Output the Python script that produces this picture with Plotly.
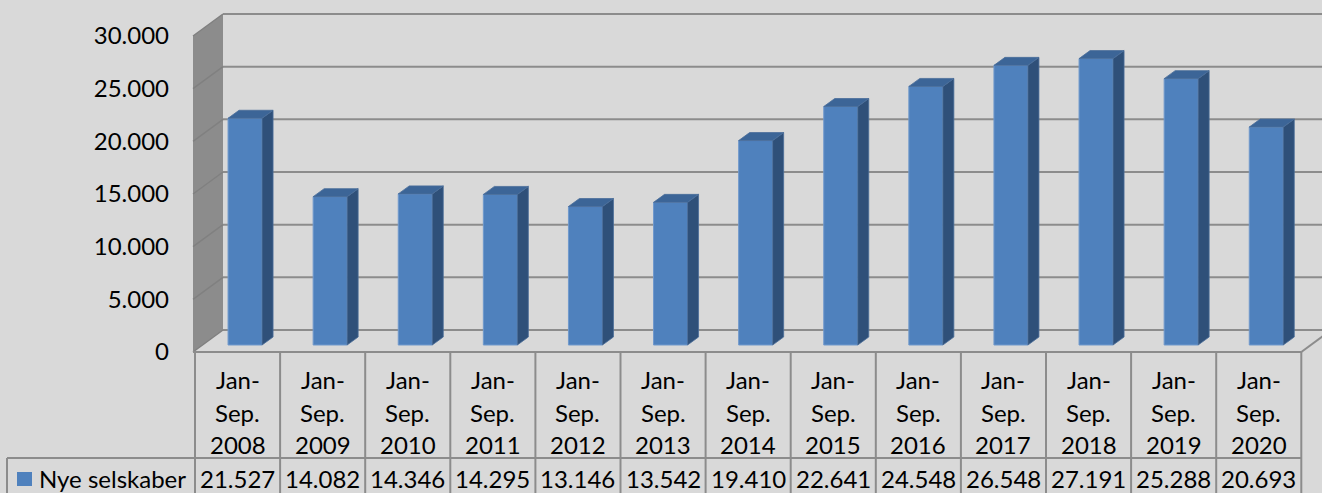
import plotly.graph_objects as go

# ---- data ----
categories = ["Jan-Sep. 2008", "Jan-Sep. 2009", "Jan-Sep. 2010", "Jan-Sep. 2011",
              "Jan-Sep. 2012", "Jan-Sep. 2013", "Jan-Sep. 2014", "Jan-Sep. 2015",
              "Jan-Sep. 2016", "Jan-Sep. 2017", "Jan-Sep. 2018", "Jan-Sep. 2019",
              "Jan-Sep. 2020"]
values = [21527, 14082, 14346, 14295, 13146, 13542, 19410, 22641, 24548,
          26548, 27191, 25288, 20693]
series_name = "Nye selskaber"
y_ticks = [0, 5000, 10000, 15000, 20000, 25000, 30000]

# ---- geometry / style (pixel based, converted to axis units) ----
W, H = 1322, 493
X0, XS = 237.55, 85.1          # px of category 0, px per category
Y0, YS = 352.0, 316.0 / 30000  # px of value 0 (front), px per unit

def dx(px):
    return px / XS

def dy(px):
    return px / YS

def X(px):  # absolute px -> x data
    return (px - X0) / XS

def Y(px):  # absolute px -> y data
    return (Y0 - px) / YS

n = len(categories)
FONT = "Lato"
FS = 24
BG = "#d9d9d9"
GRID = "#8c8c8c"
WALL = "#8c8c8c"
FRONT = "#4f81bd"
SIDE = "#2f5079"
TOP = "#3c6597"

wall_dx, wall_dy = dx(30), dy(22)
bar_off_x, bar_off_y = dx(7.5), dy(7)
bar_w = dx(34)
bar_dx, bar_dy = dx(11), dy(8)

x_fl = -0.5 - dx(2)
x_bl = x_fl + wall_dx
x_right = X(W + 40)
ymax = max(y_ticks)

shapes = []
# side wall
shapes.append(dict(type="path", layer="below", xref="x", yref="y",
                   path=f"M{x_fl},0 L{x_fl},{ymax} L{x_bl},{ymax + wall_dy} L{x_bl},{wall_dy} Z",
                   fillcolor=WALL, line=dict(width=0)))
# gridlines back wall + side wall
for v in y_ticks:
    shapes.append(dict(type="line", layer="below", xref="x", yref="y",
                       x0=x_bl, x1=x_right, y0=v + wall_dy, y1=v + wall_dy,
                       line=dict(color=GRID, width=2)))
    shapes.append(dict(type="line", layer="below", xref="x", yref="y",
                       x0=x_fl, x1=x_bl, y0=v, y1=v + wall_dy,
                       line=dict(color="#808080", width=1.5)))
# floor right edge
shapes.append(dict(type="line", layer="below", xref="x", yref="y",
                   x0=n - 0.5, x1=n - 0.5 + wall_dx, y0=0, y1=wall_dy,
                   line=dict(color=GRID, width=2)))

# table lines
y_top = 0
y_row = Y(458)
y_bot = Y(H + 5)
shapes.append(dict(type="line", xref="x", yref="y", x0=x_fl, x1=n - 0.5,
                   y0=y_top, y1=y_top, line=dict(color=GRID, width=2)))
shapes.append(dict(type="line", xref="x", yref="y", x0=X(7), x1=n - 0.5,
                   y0=y_row, y1=y_row, line=dict(color=GRID, width=2)))
shapes.append(dict(type="line", xref="x", yref="y", x0=X(7), x1=X(7),
                   y0=y_row, y1=y_bot, line=dict(color=GRID, width=2)))
for k in range(n + 1):
    shapes.append(dict(type="line", xref="x", yref="y", x0=k - 0.5, x1=k - 0.5,
                       y0=y_top, y1=y_bot, line=dict(color=GRID, width=2)))
# legend key
shapes.append(dict(type="rect", xref="x", yref="y", x0=X(17), x1=X(32),
                   y0=Y(486), y1=Y(472), fillcolor=FRONT, line=dict(width=0)))

# bar side and top faces
for k, v in enumerate(values):
    xl = k + bar_off_x - bar_w / 2
    xr = k + bar_off_x + bar_w / 2
    b = bar_off_y
    shapes.append(dict(type="path", xref="x", yref="y", layer="above",
                       path=f"M{xr},{b} L{xr + bar_dx},{b + bar_dy} L{xr + bar_dx},{b + v + bar_dy} L{xr},{b + v} Z",
                       fillcolor=SIDE, line=dict(color="#4a6d99", width=0.8)))
    shapes.append(dict(type="path", xref="x", yref="y", layer="above",
                       path=f"M{xl},{b + v} L{xl + bar_dx},{b + v + bar_dy} L{xr + bar_dx},{b + v + bar_dy} L{xr},{b + v} Z",
                       fillcolor=TOP, line=dict(color="#4a6d99", width=0.8)))

fig = go.Figure()
fig.add_trace(go.Bar(x=[k + bar_off_x for k in range(n)], y=values, base=bar_off_y,
                     width=bar_w, marker=dict(color=FRONT, line=dict(color="#7099cc", width=1)),
                     name=series_name, showlegend=False, hoverinfo="skip"))

annotations = []
line_y = [Y(379.5), Y(412), Y(444.5)]
for k, c in enumerate(categories):
    parts = c.split(" ")
    lines = [parts[0].split("-")[0] + "-", parts[0].split("-")[1], parts[1]]
    for t, yy in zip(lines, line_y):
        annotations.append(dict(x=k, y=yy, xref="x", yref="y", text=t, showarrow=False,
                                xanchor="center", yanchor="middle",
                                font=dict(family=FONT, size=FS, color="#000")))
    annotations.append(dict(x=k, y=Y(478), xref="x", yref="y",
                            text=f"{values[k]:,}".replace(",", "."), showarrow=False,
                            xanchor="center", yanchor="middle",
                            font=dict(family=FONT, size=FS, color="#000")))
annotations.append(dict(x=X(37), y=Y(478), xref="x", yref="y", text=series_name,
                        showarrow=False, xanchor="left", yanchor="middle",
                        font=dict(family=FONT, size=FS, color="#000")))

fig.update_layout(
    width=W, height=H,
    margin=dict(l=0, r=0, t=0, b=0),
    paper_bgcolor=BG, plot_bgcolor=BG,
    separators=",.",
    showlegend=False,
    shapes=shapes,
    annotations=annotations,
    xaxis=dict(range=[X(0), X(W)], visible=False, fixedrange=True),
    yaxis=dict(range=[Y(H), Y(0)], tickvals=y_ticks, tickformat=",d",
               anchor="free", position=169 / W, showgrid=False, zeroline=False,
               showline=False, ticks="", tickfont=dict(family=FONT, size=FS, color="#000"),
               fixedrange=True),
    hovermode=False,
)

fig.write_html(
    "out.html",
    config={"displayModeBar": False},
    post_script="document.body.style.margin='0';document.body.style.overflow='hidden';"
                "document.body.style.background='#d9d9d9';",
)
